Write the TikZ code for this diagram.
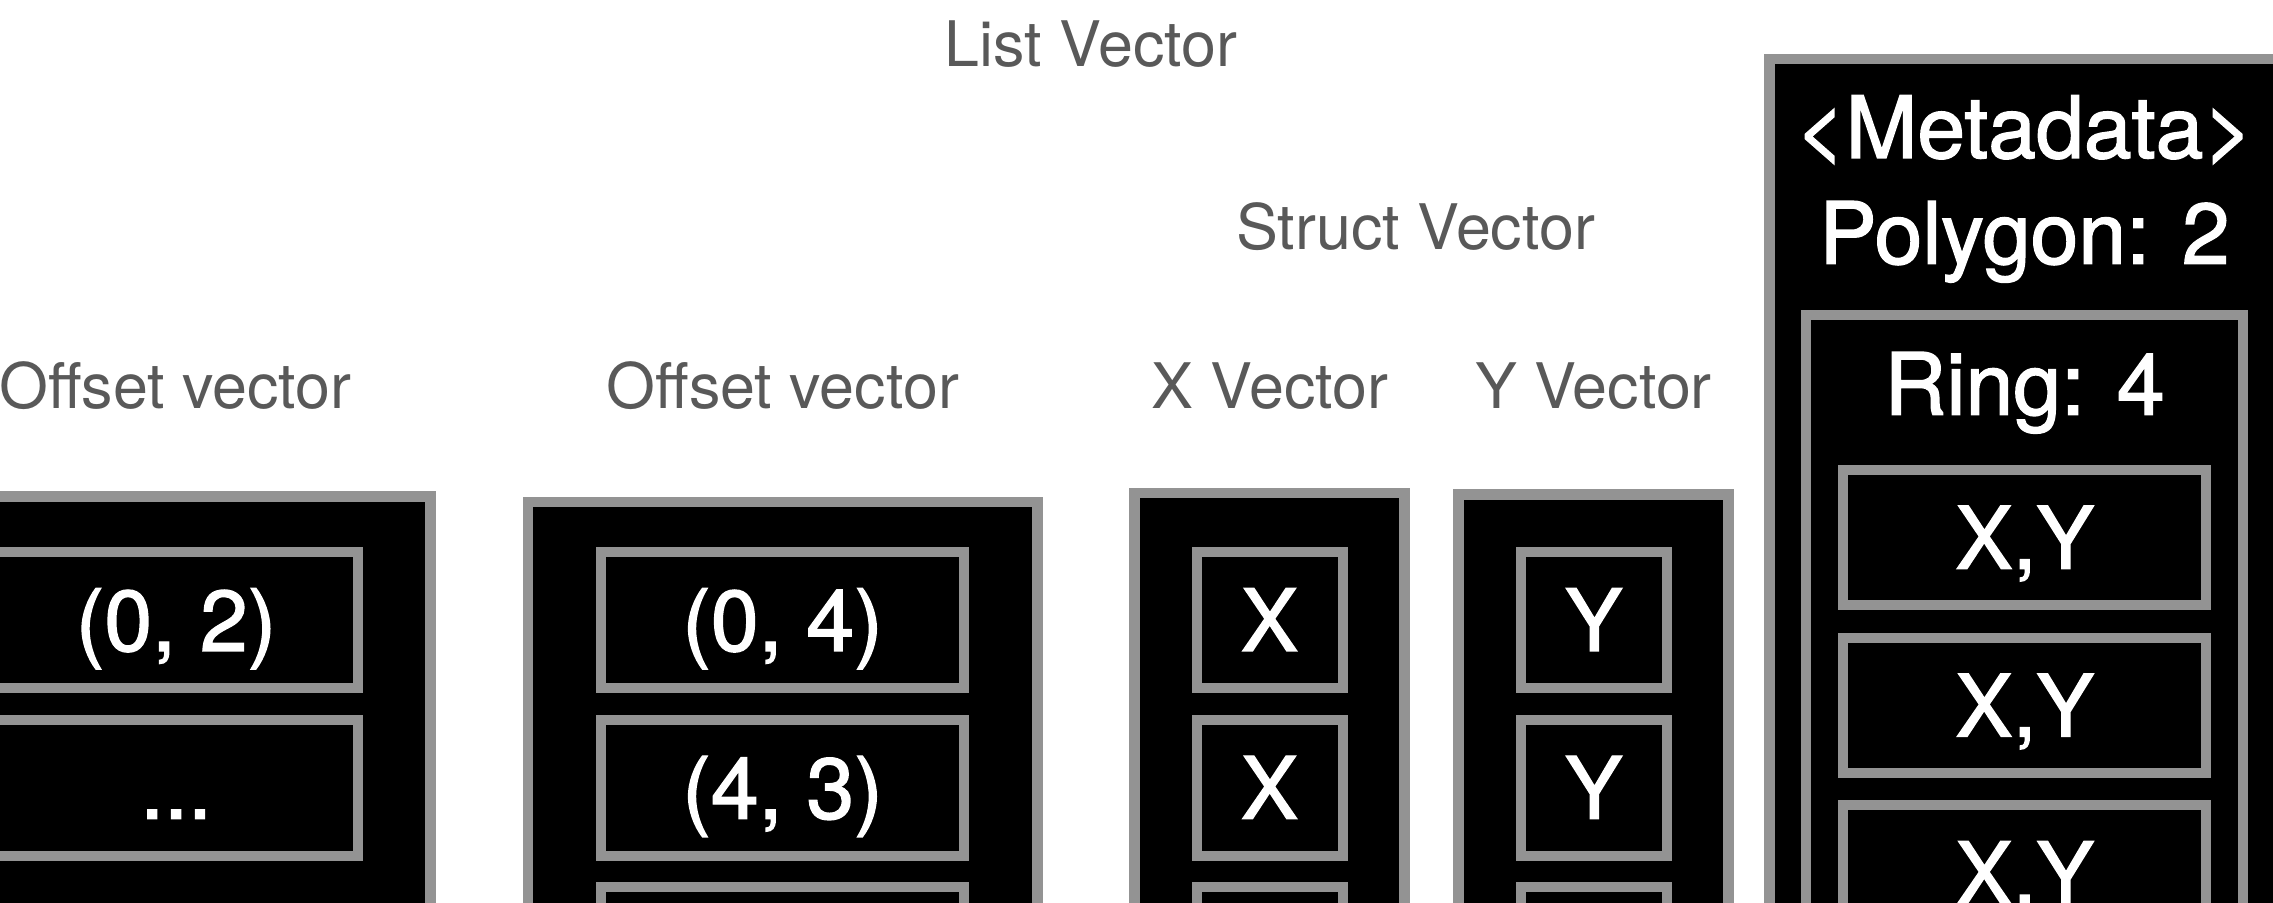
\documentclass[tikz,border=0pt]{standalone}
\usepackage{fontspec}
\setmainfont{TeX Gyre Heros}
\newfontfamily\cellfont[FakeBold=1.6]{TeX Gyre Heros}
\definecolor{edge}{RGB}{147,147,147}
\definecolor{caption}{RGB}{89,89,89}
\begin{document}
\begin{tikzpicture}[x=0.5pt,y=-0.5pt,
  vecbox/.style={draw=edge, fill=black, line width=5.3pt, inner sep=0pt, outer sep=0pt},
  cell/.style={vecbox, line width=5pt, text=white,
    font=\cellfont\fontsize{43pt}{50pt}\selectfont, text height=30.9pt, text depth=0pt},
  slot/.style={cell, minimum width=181.4pt, minimum height=68pt},
  thin/.style={cell, minimum width=72.95pt, minimum height=68pt},
  pair/.style={cell, minimum width=181.35pt, minimum height=67.75pt},
  title/.style={text=white, inner sep=0pt, anchor=base, font=\cellfont\fontsize{43pt}{50pt}\selectfont},
  caption/.style={text=caption, inner sep=0pt, anchor=base, font=\fontsize{31.4pt}{36pt}\selectfont}]
\useasboundingbox (0,0) rectangle (2273,903);
\clip (0,0) rectangle (2273,903);

% captions
\node[caption] (listcap) at (1091,66.7) {List Vector};
\node[caption] (structcap) at (1415.6,250) {Struct Vector};
\node[caption] (offcapA) at (175.5,408.5) {Offset vector};
\node[caption] (offcapB) at (782.8,408.5) {Offset vector};
\node[caption] (xcap) at (1270,408.3) {X Vector};
\node[caption] (ycap) at (1593.4,408.3) {Y Vector};

% outer vectors
\node[vecbox, minimum width=254.75pt, minimum height=301.75pt] (offA) at (175.75,798.25) {};
\node[vecbox, minimum width=254.8pt, minimum height=299pt] (offB) at (782.6,801) {};
\node[vecbox, minimum width=135.15pt, minimum height=303.6pt] (xvec) at (1269.55,796.4) {};
\node[vecbox, minimum width=134.95pt, minimum height=302.85pt] (yvec) at (1593.55,797.15) {};
\node[vecbox, minimum width=254.8pt, minimum height=520.5pt] (meta) at (2024.5,579.5) {};
\node[vecbox, minimum width=218.5pt, minimum height=392.5pt] (ring) at (2024.5,707.5) {};

% first offset vector
\node[slot] (a1) at (176.1,620) {(0, 2)};
\node[slot] (a2) at (176.1,787.75) {...};

% second offset vector
\node[slot] (b1) at (782.6,620) {(0, 4)};
\node[slot] (b2) at (782.6,787.75) {(4, 3)};
\node[slot] (b3) at (782.6,955) {};

% struct vector children
\node[thin] (x1) at (1269.55,620) {X};
\node[thin] (x2) at (1269.55,787.75) {X};
\node[thin] (x3) at (1269.55,955) {};
\node[thin] (y1) at (1593.75,620) {Y};
\node[thin] (y2) at (1593.75,787.75) {Y};
\node[thin] (y3) at (1593.75,955) {};

% geometry column
\node[title] (metatitle) at (2024.5,158) {<Metadata>};
\node[title] (polytitle) at (2024.5,263.8) {Polygon: 2};
\node[title] (ringtitle) at (2024.5,414.7) {Ring: 4};
\node[pair] (p1) at (2024.65,537.7) {X,Y};
\node[pair] (p2) at (2024.65,705.65) {X,Y};
\node[pair] (p3) at (2024.65,873.2) {X,Y};
\end{tikzpicture}
\end{document}
